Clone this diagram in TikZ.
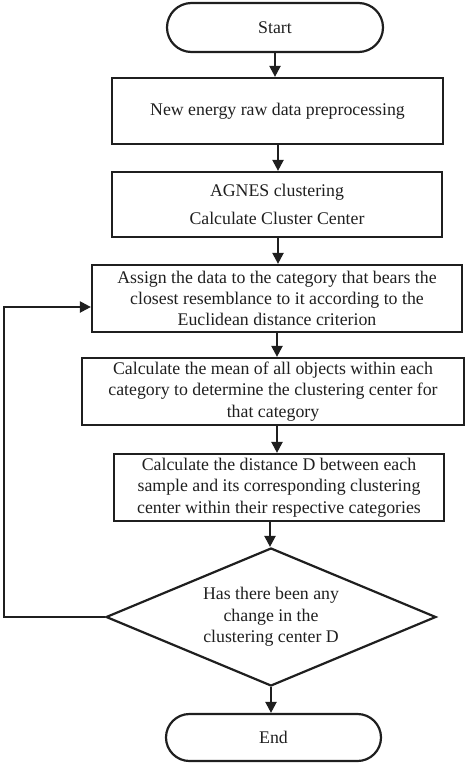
\documentclass[tikz,border=0pt]{standalone}
\usepackage{fontspec}
\setmainfont{Liberation Serif}
\usetikzlibrary{shapes.geometric,shapes.misc,arrows.meta}
\begin{document}
\begin{tikzpicture}[x=1pt,y=-1pt,
  every node/.style={font=\fontsize{17.8}{21.3}\selectfont, text=black!88},
  line/.style={draw=black!88, line width=2.2pt},
  term/.style={line, rounded rectangle, minimum width=216pt, minimum height=49pt, inner sep=0pt},
  proc/.style={line, rectangle, inner sep=0pt, align=center},
  dec/.style={line, diamond, aspect=2.4, inner sep=0pt, minimum width=330pt, minimum height=138pt, align=center},
  arr/.style={line, -{Triangle[length=11pt,width=11pt]}}]
\useasboundingbox (0,0) rectangle (468,765);
\node[term] (start) at (275,27.5) {Start};
\node[proc, minimum width=331pt, minimum height=66pt] (pre) at (277.5,111) {New energy raw data preprocessing};
\node[proc, minimum width=330pt, minimum height=65pt, font=\fontsize{17.8}{28}\selectfont] (agn) at (277,204.5) {AGNES clustering\\Calculate Cluster Center};
\node[proc, minimum width=370pt, minimum height=67pt] (asg) at (277,298.5) {Assign the data to the category that bears the\\closest resemblance to it according to the\\Euclidean distance criterion};
\node[proc, minimum width=382pt, minimum height=67pt] (mean) at (273,391.5) {Calculate the mean of all objects within each\\category to determine the clustering center for\\that category};
\node[proc, minimum width=330pt, minimum height=67pt] (dist) at (279,487.5) {Calculate the distance D between each\\sample and its corresponding clustering\\center within their respective categories};
\node[dec] (chg) at (271,617) {Has there been any\\change in the\\clustering center D};
\node[term, minimum width=215pt, minimum height=47pt] (end) at (273.5,737.5) {End};
\coordinate (lpb) at (4,617);
\coordinate (lpt) at (4,307);
\draw[arr] (start.south) -- (start.south |- pre.north);
\draw[arr] ([xshift=0.5pt]pre.south) -- ([xshift=0.5pt]pre.south |- agn.north);
\draw[arr] ([xshift=1pt]agn.south) -- ([xshift=1pt]agn.south |- asg.north);
\draw[arr] (asg.south) -- (asg.south |- mean.north);
\draw[arr] ([xshift=4pt]mean.south) -- ([xshift=4pt]mean.south |- dist.north);
\draw[arr] ([xshift=-9pt]dist.south) -- ([xshift=-9pt]dist.south |- chg.north);
\draw[arr] (chg.south) -- (chg.south |- end.north);
\draw[arr] (chg.west) -- (lpb) -- (lpt) -- (lpt -| asg.west);
\end{tikzpicture}
\end{document}
